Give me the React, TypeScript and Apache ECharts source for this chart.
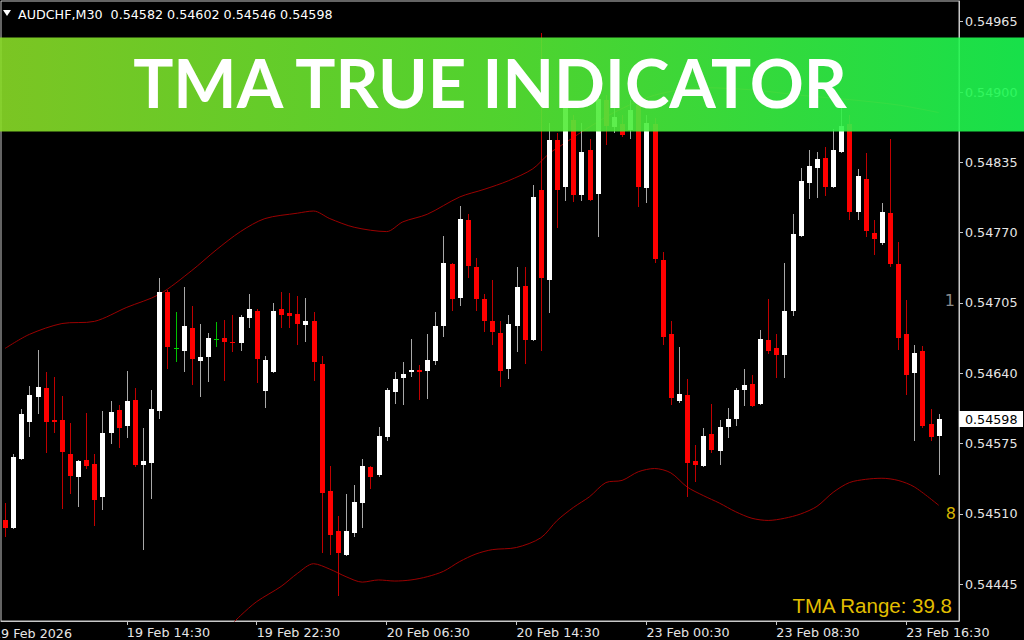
import React, { useEffect, useRef } from "react";
import * as echarts from "echarts";

// ---- DATA ----
const opens = [
  0.54504, 0.54497, 0.54561, 0.54595, 0.54618, 0.54626, 0.54597, 0.54597, 0.54565, 0.54544,
  0.5456, 0.54556, 0.54526, 0.54585, 0.54606, 0.54591, 0.54615, 0.54555, 0.54557, 0.54605,
  0.54715, 0.54663, 0.54661, 0.54682, 0.54651, 0.54655, 0.54672, 0.54673, 0.54669, 0.54668,
  0.54691, 0.54698, 0.54624, 0.54641, 0.54699, 0.54696, 0.54695, 0.54685, 0.54688, 0.54649,
  0.54531, 0.54494, 0.54472, 0.54492, 0.5452, 0.54553, 0.54546, 0.54581, 0.54623, 0.54636,
  0.54641, 0.54643, 0.54642, 0.54651, 0.54684, 0.54741, 0.5471, 0.54782, 0.54738, 0.54709,
  0.54688, 0.54677, 0.54644, 0.54684, 0.54721, 0.54671, 0.54809, 0.54726, 0.54856, 0.54812,
  0.54874, 0.54805, 0.54846, 0.54806, 0.54893, 0.54868, 0.5487, 0.54865, 0.54888, 0.54811,
  0.5487, 0.54745, 0.54676, 0.54614, 0.5462, 0.54559, 0.54554, 0.54584, 0.54568, 0.5459,
  0.54598, 0.54625, 0.5463, 0.54612, 0.54671, 0.54663, 0.54657, 0.54698, 0.54767, 0.54816,
  0.5483, 0.54839, 0.54812, 0.54845, 0.5487, 0.54789, 0.5482, 0.5477, 0.5476, 0.54788,
  0.54741, 0.54676, 0.5464, 0.54661, 0.54593, 0.54582,
];
const highs = [
  0.5452, 0.54565, 0.54607, 0.54628, 0.54662, 0.54641, 0.54637, 0.54619, 0.54594, 0.5456,
  0.54603, 0.54565, 0.54605, 0.54614, 0.54611, 0.54642, 0.54626, 0.54589, 0.54625, 0.54728,
  0.54717, 0.54697, 0.5472, 0.54702, 0.54686, 0.54677, 0.54687, 0.54689, 0.54694, 0.54694,
  0.54713, 0.54699, 0.54656, 0.54705, 0.54715, 0.54714, 0.54711, 0.5471, 0.54697, 0.54656,
  0.54554, 0.54508, 0.54528, 0.54537, 0.54561, 0.54554, 0.5459, 0.54626, 0.54641, 0.5465,
  0.54672, 0.54648, 0.54676, 0.54697, 0.54767, 0.54742, 0.54795, 0.54787, 0.54747, 0.54713,
  0.54726, 0.54688, 0.54694, 0.54738, 0.54738, 0.54814, 0.54955, 0.54871, 0.54862, 0.54893,
  0.54879, 0.54871, 0.54857, 0.54902, 0.54897, 0.54888, 0.54879, 0.54893, 0.54897, 0.54879,
  0.54876, 0.54752, 0.54688, 0.54664, 0.54635, 0.54574, 0.54589, 0.54612, 0.54597, 0.54608,
  0.54626, 0.54644, 0.54638, 0.5468, 0.54709, 0.54676, 0.54742, 0.54787, 0.5483, 0.54846,
  0.54845, 0.54849, 0.54866, 0.54885, 0.54879, 0.54829, 0.54844, 0.54782, 0.54797, 0.54857,
  0.54761, 0.54708, 0.54666, 0.54665, 0.54607, 0.54602,
];
const lows = [
  0.54489, 0.54496, 0.5456, 0.54581, 0.54602, 0.54566, 0.54585, 0.54515, 0.54528, 0.54516,
  0.54552, 0.54499, 0.54514, 0.54575, 0.54571, 0.5458, 0.54553, 0.54477, 0.54524, 0.54598,
  0.54644, 0.5465, 0.54641, 0.54629, 0.54618, 0.54632, 0.54664, 0.54633, 0.5466, 0.54661,
  0.54682, 0.54631, 0.54608, 0.5464, 0.54682, 0.54682, 0.54666, 0.54669, 0.54633, 0.54474,
  0.54472, 0.54434, 0.54471, 0.54489, 0.54497, 0.54533, 0.54544, 0.54577, 0.54612, 0.54611,
  0.54637, 0.54615, 0.54616, 0.54648, 0.54674, 0.54698, 0.54702, 0.54728, 0.54698, 0.54678,
  0.54666, 0.54627, 0.54635, 0.5466, 0.54649, 0.5467, 0.54661, 0.54696, 0.54774, 0.54799,
  0.54798, 0.54799, 0.54799, 0.54766, 0.54851, 0.54862, 0.54858, 0.54857, 0.54794, 0.54797,
  0.54742, 0.54666, 0.54611, 0.54613, 0.54526, 0.5454, 0.54553, 0.54566, 0.54555, 0.5458,
  0.54591, 0.5461, 0.54609, 0.54611, 0.54658, 0.54636, 0.54636, 0.54693, 0.54766, 0.54801,
  0.54802, 0.54804, 0.54811, 0.54844, 0.54782, 0.54782, 0.54766, 0.54749, 0.54759, 0.54738,
  0.54662, 0.5462, 0.54577, 0.54589, 0.54577, 0.54546,
];
const closes = [
  0.54497, 0.54563, 0.54602, 0.5462, 0.54627, 0.54595, 0.54595, 0.54567, 0.54545, 0.54559,
  0.54554, 0.54523, 0.54585, 0.54604, 0.54589, 0.54614, 0.54555, 0.54559, 0.54607, 0.54715,
  0.54664, 0.54663, 0.54684, 0.54653, 0.54655, 0.54673, 0.54672, 0.54669, 0.54668, 0.54692,
  0.54699, 0.54653, 0.54652, 0.54698, 0.54694, 0.54693, 0.54686, 0.54688, 0.5465, 0.54529,
  0.54491, 0.54474, 0.54494, 0.54521, 0.54554, 0.54544, 0.54582, 0.54625, 0.54635, 0.54639,
  0.54643, 0.54641, 0.54652, 0.54684, 0.54742, 0.54709, 0.54783, 0.54739, 0.54709, 0.54688,
  0.54678, 0.54642, 0.54686, 0.5472, 0.54671, 0.54803, 0.54728, 0.54856, 0.54809, 0.54888,
  0.54805, 0.54845, 0.548, 0.54894, 0.54869, 0.54877, 0.5486, 0.54883, 0.54812, 0.54871,
  0.54746, 0.54674, 0.54617, 0.54621, 0.54557, 0.54555, 0.54582, 0.54569, 0.5459, 0.54598,
  0.54625, 0.54629, 0.5461, 0.54672, 0.54661, 0.54657, 0.54698, 0.54769, 0.54818, 0.54832,
  0.54838, 0.54812, 0.54846, 0.54869, 0.54789, 0.54822, 0.54772, 0.54764, 0.54789, 0.54741,
  0.54673, 0.54638, 0.54659, 0.54591, 0.54581, 0.54598,
];

// TMA bands: [bar index, price]
const upperBand = [
  [0, 0.54663], [3, 0.54676], [7, 0.54686], [11, 0.54688], [15, 0.54701], [19, 0.54713],
  [23, 0.54735], [26, 0.54754], [29, 0.54771], [32, 0.54783], [36, 0.54788], [38, 0.5479],
  [40, 0.54783], [43, 0.54775], [47, 0.54771], [49, 0.5478], [52, 0.54787], [56, 0.54803],
  [59, 0.5481], [62, 0.54818], [65, 0.54829], [67, 0.54843], [69, 0.54853], [71, 0.54863],
  [75, 0.54881], [80, 0.54897], [86, 0.54904], [92, 0.54902], [98, 0.54897], [104, 0.54893],
  [110, 0.54888], [115, 0.54881],
];
const lowerBand = [
  [27, 0.54401], [29, 0.54416], [31, 0.54429], [34, 0.54443], [36, 0.54455], [38, 0.54464],
  [40, 0.54459], [42, 0.54452], [44, 0.54447], [46, 0.54449], [48, 0.54448], [50, 0.54449],
  [52, 0.54452], [54, 0.54457], [56, 0.54466], [58, 0.54473], [60, 0.54477], [63, 0.54479],
  [66, 0.54488], [68, 0.54504], [70, 0.54516], [72, 0.54526], [74, 0.54539], [76, 0.54541],
  [78, 0.54549], [80, 0.54552], [82, 0.54548], [84, 0.54535], [86, 0.54527], [88, 0.5452],
  [90, 0.54512], [92, 0.54506], [94, 0.54504], [96, 0.54506], [98, 0.5451], [100, 0.54517],
  [102, 0.5453], [104, 0.54539], [106, 0.54542], [108, 0.54543], [110, 0.54541], [112, 0.54535],
  [115, 0.54518],
];

const yTickValues = [0.54445, 0.5451, 0.54575, 0.5464, 0.54705, 0.5477, 0.54835, 0.549, 0.54965];
const xTickLabels: Record<number, string> = {
  15: "19 Feb 14:30",
  31: "19 Feb 22:30",
  47: "20 Feb 06:30",
  63: "20 Feb 14:30",
  79: "23 Feb 00:30",
  95: "23 Feb 08:30",
  111: "23 Feb 16:30",
};
const firstDateLabel = "19 Feb 2026";
const headerText = "AUDCHF,M30  0.54582 0.54602 0.54546 0.54598";
const bannerTitle = "TMA TRUE INDICATOR";
const rangeText = "TMA Range: 39.8";
const upperLabel = "1";
const lowerLabel = "8";

const Y_MIN = 0.5441106;
const Y_MAX = 0.5498413;
const SLOTS = 118;
const FONT = "DejaVu Sans";

export default function App() {
  const ref = useRef<HTMLDivElement>(null);

  useEffect(() => {
    const chart = echarts.init(ref.current as HTMLDivElement, null, { renderer: "svg" });
    const cats = Array.from({ length: SLOTS }, (_, i) => String(i));
    const candleData = opens.map((o, i) => [i, o, closes[i], lows[i], highs[i]]);
    const showTick = (idx: number) => xTickLabels[idx] !== undefined;

    const renderItem = (params: any, api: any) => {
      const i = api.value(0);
      const o = api.value(1);
      const c = api.value(2);
      const l = api.value(3);
      const h = api.value(4);
      const pO = api.coord([i, o]);
      const pC = api.coord([i, c]);
      const pH = api.coord([i, h]);
      const pL = api.coord([i, l]);
      const cx = Math.round(pO[0]);
      const doji = o === c;
      const bull = c > o;
      const bodyColor = doji ? "#00d400" : bull ? "#ffffff" : "#ff0000";
      const wickColor = doji ? "#00c000" : bull ? "#a8a8a8" : "#c00000";
      const top = Math.round(Math.min(pO[1], pC[1]));
      const bot = Math.round(Math.max(pO[1], pC[1]));
      const hgt = Math.max(1, bot - top);
      return {
        type: "group",
        children: [
          {
            type: "line",
            shape: { x1: cx + 0.5, y1: Math.round(pH[1]), x2: cx + 0.5, y2: Math.round(pL[1]) },
            style: { stroke: wickColor, lineWidth: 1 },
          },
          {
            type: "rect",
            shape: { x: cx - 2, y: top, width: 5, height: hgt },
            style: { fill: bodyColor },
          },
        ],
      };
    };

    const bandLine = (data: number[][]) => ({
      type: "line",
      data,
      showSymbol: false,
      smooth: 0.3,
      clip: true,
      lineStyle: { color: "#9a0000", width: 1 },
      z: 1,
      silent: true,
    });

    chart.setOption({
      animation: false,
      backgroundColor: "#000000",
      grid: {
        left: 1,
        right: 65,
        top: 1,
        bottom: 19,
        show: true,
        borderColor: "#c8c8c8",
        borderWidth: 1,
        backgroundColor: "transparent",
      },
      xAxis: {
        type: "category",
        data: cats,
        boundaryGap: true,
        axisLine: { show: true, lineStyle: { color: "#c8c8c8" } },
        axisTick: {
          show: true,
          alignWithLabel: true,
          interval: (idx: number) => showTick(idx),
          length: 4,
          lineStyle: { color: "#c8c8c8" },
        },
        axisLabel: {
          interval: (idx: number) => showTick(idx),
          formatter: (_v: string, idx: number) => xTickLabels[idx] ?? "",
          color: "#e6e6e6",
          fontFamily: FONT,
          fontSize: 12.7,
          align: "left",
          margin: 5,
        },
        splitLine: { show: false },
      },
      yAxis: {
        type: "value",
        position: "right",
        min: Y_MIN,
        max: Y_MAX,
        axisLine: { show: true, lineStyle: { color: "#c8c8c8" } },
        axisTick: { show: true, customValues: yTickValues, length: 4, lineStyle: { color: "#c8c8c8" } },
        axisLabel: {
          customValues: yTickValues,
          formatter: (v: number) => v.toFixed(5),
          color: "#e6e6e6",
          fontFamily: FONT,
          fontSize: 12.7,
          margin: 6,
        },
        splitLine: { show: false },
      },
      series: [
        bandLine(upperBand),
        bandLine(lowerBand),
        {
          type: "custom",
          data: candleData,
          renderItem,
          encode: { x: 0, y: [1, 2, 3, 4] },
          clip: true,
          z: 2,
        },
      ],
    });

    const lastClose = closes[closes.length - 1];
    const py = chart.convertToPixel({ yAxisIndex: 0 }, lastClose) as number;

    chart.setOption({
      graphic: [
        {
          type: "polygon",
          shape: { points: [[3, 10], [11, 10], [7, 16]] },
          style: { fill: "#ffffff" },
          z: 50,
        },
        {
          type: "text",
          x: 18,
          y: 14,
          style: {
            text: headerText,
            fill: "#ffffff",
            font: `12.7px "${FONT}"`,
            textVerticalAlign: "middle",
          },
          z: 50,
        },
        {
          type: "text",
          x: -7,
          y: 633,
          style: {
            text: firstDateLabel,
            fill: "#e6e6e6",
            font: `12.7px "${FONT}"`,
            textVerticalAlign: "middle",
          },
          z: 50,
        },
        {
          type: "rect",
          shape: { x: 959, y: Math.round(py) - 8, width: 64, height: 16 },
          style: { fill: "#ffffff" },
          z: 50,
        },
        {
          type: "text",
          x: 965,
          y: Math.round(py),
          style: {
            text: lastClose.toFixed(5),
            fill: "#000000",
            font: `12.7px "${FONT}"`,
            textVerticalAlign: "middle",
          },
          z: 51,
        },
        {
          type: "text",
          x: 955,
          y: 300,
          style: {
            text: upperLabel,
            fill: "#8c8c8c",
            font: `16px "${FONT}"`,
            textAlign: "right",
            textVerticalAlign: "middle",
          },
          z: 50,
        },
        {
          type: "text",
          x: 956,
          y: 513,
          style: {
            text: lowerLabel,
            fill: "#d6b400",
            font: `16px "${FONT}"`,
            textAlign: "right",
            textVerticalAlign: "middle",
          },
          z: 50,
        },
        {
          type: "text",
          x: 952,
          y: 605,
          style: {
            text: rangeText,
            fill: "#e2be00",
            font: `20.5px "Liberation Sans"`,
            textAlign: "right",
            textVerticalAlign: "middle",
          },
          z: 50,
        },
        {
          type: "rect",
          shape: { x: 0, y: 37.5, width: 1024, height: 94 },
          style: {
            fill: new echarts.graphic.LinearGradient(0, 0, 1, 0, [
              { offset: 0, color: "rgba(137,219,39,0.9)" },
              { offset: 0.5, color: "rgba(88,234,52,0.9)" },
              { offset: 1, color: "rgba(26,249,82,0.9)" },
            ]),
          },
          z: 100,
        },
        {
          type: "text",
          x: 490,
          y: 82,
          style: {
            text: bannerTitle,
            fill: "#ffffff",
            font: `bold 67px "Lato"`,
            textAlign: "center",
            textVerticalAlign: "middle",
          },
          z: 101,
        },
      ],
    });

    return () => chart.dispose();
  }, []);

  return (
    <div
      ref={ref}
      style={{ position: "fixed", left: 0, top: 0, width: 1024, height: 640 }}
    />
  );
}
